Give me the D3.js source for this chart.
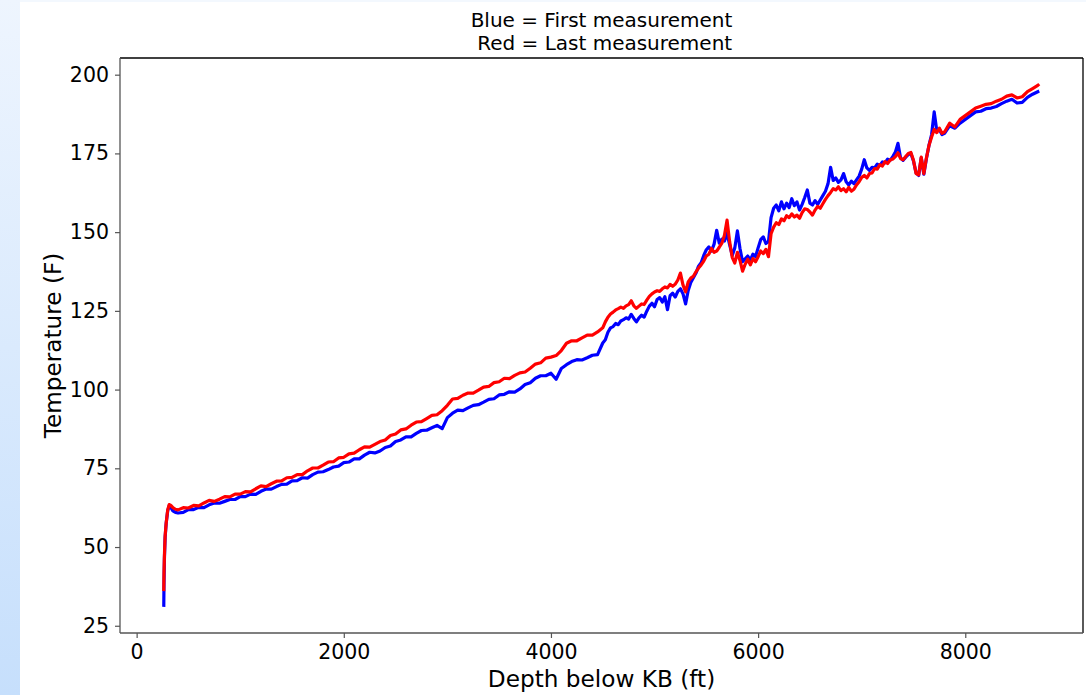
<!DOCTYPE html>
<html>
<head>
<meta charset="utf-8">
<script src="https://cdn.jsdelivr.net/npm/d3@7"></script>
<style>
  body { margin: 0; background: #fff; }
  #chart text { font-family: "DejaVu Sans", sans-serif; fill: #000; }
  .axis path, .axis line { stroke: #555; }
</style>
</head>
<body>
<div id="chart"></div>
<script>

// depth below KB (ft), shared by both surveys
var depth = [
  262, 264, 268, 275, 285, 300, 315, 330, 350, 375, 400,
  450, 500, 550, 600, 650, 700, 750, 800, 850, 900, 950, 1000, 1050, 1100, 1150, 1200, 1250, 1300, 1350, 1400,
  1450, 1500, 1550, 1600, 1650, 1700, 1750, 1800, 1850, 1900, 1950, 2000, 2050, 2100, 2150, 2200, 2250, 2300,
  2350, 2400, 2450, 2500, 2550, 2600, 2650, 2700, 2750, 2800, 2850, 2900, 2950, 3000, 3050, 3100, 3150, 3200,
  3250, 3300, 3350, 3400, 3450, 3500, 3550, 3600, 3650, 3700, 3750, 3800, 3850, 3900, 3950, 4000, 4050, 4100,
  4150, 4200, 4250, 4300, 4350, 4400, 4450, 4500,
  4525, 4550, 4575, 4600, 4625, 4650, 4675, 4700, 4725, 4750, 4775, 4800, 4825, 4850, 4875, 4900, 4925, 4950, 4975, 5000,
  5025, 5050, 5075, 5100, 5125, 5150, 5175, 5200, 5225, 5250, 5275, 5300, 5325, 5350, 5375, 5400, 5425, 5450, 5475, 5500,
  5525, 5550, 5575, 5600, 5625, 5650, 5675, 5700, 5725, 5750, 5775, 5800, 5825, 5850, 5875, 5900, 5925, 5950, 5975, 6000,
  6025, 6050, 6075, 6100, 6125, 6150, 6175, 6200, 6225, 6250, 6275, 6300, 6325, 6350, 6375, 6400, 6425, 6450, 6475, 6500,
  6525, 6550, 6575, 6600, 6625, 6650, 6675, 6700, 6725, 6750, 6775, 6800, 6825, 6850, 6875, 6900, 6925, 6950, 6975, 7000,
  7025, 7050, 7075, 7100, 7125, 7150, 7175, 7200, 7225, 7250, 7275, 7300, 7325, 7350, 7375, 7400, 7425, 7450, 7475, 7500,
  7525, 7550, 7575, 7600, 7625, 7650, 7675, 7700, 7725, 7750, 7775, 7800,
  7850, 7900, 7950, 8000, 8050, 8100, 8150, 8200, 8250, 8300, 8350, 8400, 8450, 8500, 8550, 8600, 8650, 8700, 8714
];

// first measurement (F)
var firstTemp = [
  31.0, 38.0, 46.0, 53.0, 57.5, 61.5, 63.2, 62.6, 61.5, 61.0, 60.8,
  61.0, 61.9, 61.9, 62.6, 62.5, 63.4, 64.0, 63.9, 64.5, 65.1, 65.1, 66.0, 66.0, 66.8, 66.7, 67.7, 68.4, 68.4, 69.2, 69.9,
  70.0, 71.0, 71.1, 72.0, 71.9, 73.0, 73.8, 73.9, 74.6, 75.4, 75.7, 76.8, 77.0, 78.0, 78.0, 79.2, 80.1, 79.9,
  80.5, 81.6, 82.1, 83.5, 84.0, 85.0, 85.0, 86.1, 87.0, 87.1, 87.9, 88.6, 87.6, 91.1, 92.5, 93.5, 93.3, 94.2,
  95.0, 95.2, 96.0, 96.9, 97.1, 98.3, 98.5, 99.3, 99.2, 100.2, 101.6, 102.2, 103.6, 104.4, 104.4, 105.2, 103.3, 106.7,
  107.9, 108.9, 109.5, 109.4, 110.1, 110.9, 111.1, 114.8,
  115.8, 118.2, 119.6, 120.0, 121.0, 120.6, 121.8, 122.2, 122.8, 122.4, 123.9, 122.6, 121.5, 122.8, 123.6, 123.0, 124.9, 126.5, 127.4, 126.3,
  128.6, 129.2, 127.8, 129.5, 125.4, 129.8, 130.6, 129.4, 131.2, 132.0, 130.4, 127.2, 131.5, 134.0, 135.5, 137.0, 139.2, 140.3, 142.6, 144.4,
  145.3, 144.0, 146.2, 150.6, 146.5, 147.8, 147.2, 149.6, 146.0, 142.6, 145.0, 150.4, 144.8, 140.6, 141.5, 142.4, 141.2, 143.0, 142.2, 145.0,
  147.6, 148.5, 146.4, 147.0, 154.6, 157.6, 158.6, 156.8, 159.6, 157.4, 159.2, 157.8, 160.6, 158.4, 159.6, 157.0, 158.8, 161.0, 163.4, 159.2,
  158.6, 160.0, 158.8, 160.2, 161.6, 163.0, 165.4, 170.6, 166.4, 167.2, 165.8, 166.6, 168.6, 166.0, 165.0, 166.2, 165.4, 166.6, 167.8, 170.0,
  173.0, 170.4, 169.6, 170.6, 170.4, 171.6, 171.2, 172.3, 172.0, 173.2, 172.8, 174.0, 175.4, 178.2, 173.6, 172.8, 173.8, 174.6, 175.0, 172.6,
  168.8, 168.0, 173.6, 168.4, 173.4, 177.6, 181.0, 188.2, 182.2, 182.6, 181.0, 181.4,
  183.8, 183.0, 184.6, 185.8, 187.0, 188.2, 188.4, 189.2, 189.4, 189.9, 190.8, 191.6, 192.2, 191.0, 191.2, 192.8, 193.8, 194.6, 194.8
];

// last measurement (F)
var lastTemp = [
  36.0, 41.5, 47.0, 53.5, 57.5, 61.8, 63.5, 63.2, 62.5, 62.0, 61.8,
  62.5, 62.4, 63.2, 63.1, 64.0, 64.8, 64.5, 65.2, 66.0, 65.9, 66.8, 66.8, 67.6, 67.5, 68.5, 69.4, 69.2, 70.1, 70.9, 71.0,
  72.0, 72.1, 73.0, 73.0, 74.2, 75.1, 75.1, 76.0, 77.0, 77.1, 78.3, 78.5, 79.6, 79.8, 80.9, 81.8, 81.7, 82.6,
  83.5, 84.0, 85.4, 85.9, 87.2, 87.5, 88.7, 89.7, 89.8, 90.8, 91.8, 92.0, 93.3, 95.0, 97.0, 97.2, 98.2, 98.9,
  98.9, 99.8, 100.8, 101.0, 102.2, 102.5, 103.6, 103.5, 104.5, 105.3, 105.6, 106.8, 108.1, 108.5, 110.0, 110.3, 110.8, 112.4,
  114.7, 115.5, 115.5, 116.4, 117.3, 117.3, 118.3, 119.6,
  121.5, 123.0, 124.0, 124.6, 125.3, 125.7, 126.2, 125.8, 126.6, 127.0, 128.2, 126.6, 125.8, 126.5, 127.2, 127.0, 128.4, 129.6, 130.4, 131.0,
  131.4, 131.2, 132.0, 132.6, 132.3, 133.4, 132.8, 133.5, 134.8, 137.0, 133.2, 131.0, 134.2, 135.4, 136.0, 137.4, 138.6, 139.6, 140.8, 142.4,
  143.0, 144.8, 143.6, 144.0, 145.2, 146.5, 149.0, 153.8, 147.0, 142.0, 140.2, 143.6, 141.0, 137.6, 139.8, 141.4, 139.6, 141.6, 140.6, 142.2,
  144.0, 143.2, 144.5, 142.2, 149.5, 151.6, 153.0, 152.4, 154.2, 153.6, 155.2, 154.6, 155.8, 154.8, 155.4, 154.4, 156.2, 157.4, 157.2, 156.4,
  155.4, 157.0, 158.2, 157.6, 159.0, 160.4, 161.6, 162.6, 163.8, 163.4, 164.4, 163.2, 163.8, 162.8, 164.2, 163.0, 163.6, 165.0, 166.0, 167.4,
  168.0, 167.2, 168.6, 168.8, 170.2, 170.0, 171.4, 171.0, 172.4, 171.8, 172.9, 173.2, 174.0, 175.2, 173.4, 173.0, 174.0, 175.0, 175.3, 172.8,
  168.6, 168.2, 173.8, 168.6, 173.6, 177.6, 180.2, 182.6, 181.6, 183.0, 181.4, 181.8,
  184.6, 183.4, 185.8, 187.0, 188.2, 189.4, 190.0, 190.6, 190.8, 191.6, 192.2, 193.2, 193.6, 192.6, 193.0, 194.6, 195.6, 196.6, 197.0
];

var xTicks = [0, 2000, 4000, 6000, 8000];
var yTicks = [25, 50, 75, 100, 125, 150, 175, 200];

var titleLines = ["Blue = First measurement", " Red = Last measurement"];
var xLabel = "Depth below KB (ft)";
var yLabel = "Temperature (F)";


var W = 1086, H = 695;
var plot = { left: 120, top: 58, right: 1083, bottom: 633 };

var svg = d3.select("#chart")
  .append("svg")
  .attr("width", W)
  .attr("height", H);

// page background strip on the left
var grad = svg.append("defs").append("linearGradient")
  .attr("id", "side").attr("x1", 0).attr("y1", 0).attr("x2", 0).attr("y2", 1);
grad.append("stop").attr("offset", "0%").attr("stop-color", "#eef5fe");
grad.append("stop").attr("offset", "100%").attr("stop-color", "#c6dffc");

svg.append("rect").attr("x", 0).attr("y", 0).attr("width", W).attr("height", 2).attr("fill", "#f3f8fe");
svg.append("rect").attr("x", 0).attr("y", 0).attr("width", 20).attr("height", H).attr("fill", "url(#side)");

// matplotlib style 5% margins
function padded(ext) {
  var m = (ext[1] - ext[0]) * 0.05;
  return [ext[0] - m, ext[1] + m];
}

var x = d3.scaleLinear()
  .domain(padded(d3.extent(depth)))
  .range([plot.left, plot.right]);

var allTemps = firstTemp.concat(lastTemp);
var y = d3.scaleLinear()
  .domain(padded(d3.extent(allTemps)))
  .range([plot.bottom, plot.top]);

var n = Math.min(depth.length, firstTemp.length, lastTemp.length);

var line = d3.line()
  .x(function (d) { return x(d[0]); })
  .y(function (d) { return y(d[1]); });

function series(values) {
  return d3.range(n).map(function (i) { return [depth[i], values[i]]; });
}

svg.append("clipPath").attr("id", "plotclip")
  .append("rect")
  .attr("x", plot.left).attr("y", plot.top)
  .attr("width", plot.right - plot.left).attr("height", plot.bottom - plot.top);

var lines = svg.append("g").attr("clip-path", "url(#plotclip)");

lines.append("path")
  .datum(series(firstTemp))
  .attr("fill", "none")
  .attr("stroke", "#0000ff")
  .attr("stroke-width", 3.2)
  .attr("stroke-linejoin", "round")
  .attr("d", line);

lines.append("path")
  .datum(series(lastTemp))
  .attr("fill", "none")
  .attr("stroke", "#ff0000")
  .attr("stroke-width", 3.2)
  .attr("stroke-linejoin", "round")
  .attr("d", line);

// axes
var xAxis = d3.axisBottom(x).tickValues(xTicks).tickSize(5).tickPadding(6).tickFormat(d3.format("d"));
var yAxis = d3.axisLeft(y).tickValues(yTicks).tickSize(5).tickPadding(6).tickFormat(d3.format("d"));

var gx = svg.append("g")
  .attr("class", "axis")
  .attr("transform", "translate(0," + plot.bottom + ")")
  .call(xAxis);
gx.select(".domain").remove();

var gy = svg.append("g")
  .attr("class", "axis")
  .attr("transform", "translate(" + plot.left + ",0)")
  .call(yAxis);
gy.select(".domain").remove();

svg.selectAll(".axis text").style("font-size", "20.5px");
svg.selectAll(".axis line").attr("stroke-width", 1.2);

// spines: left/bottom grey, top/right black
svg.append("line").attr("x1", plot.left).attr("x2", plot.right).attr("y1", plot.top).attr("y2", plot.top)
  .attr("stroke", "#000").attr("stroke-width", 1.3);
svg.append("line").attr("x1", plot.right).attr("x2", plot.right).attr("y1", plot.top).attr("y2", plot.bottom)
  .attr("stroke", "#000").attr("stroke-width", 1.3);
svg.append("line").attr("x1", plot.left).attr("x2", plot.left).attr("y1", plot.top).attr("y2", plot.bottom)
  .attr("stroke", "#555").attr("stroke-width", 1.3);
svg.append("line").attr("x1", plot.left).attr("x2", plot.right).attr("y1", plot.bottom).attr("y2", plot.bottom)
  .attr("stroke", "#555").attr("stroke-width", 1.3);

// title
var cx = (plot.left + plot.right) / 2;
svg.selectAll(".title")
  .data(titleLines)
  .enter()
  .append("text")
  .attr("class", "title")
  .attr("x", cx)
  .attr("y", function (d, i) { return 27 + i * 23; })
  .attr("text-anchor", "middle")
  .style("font-size", "20px")
  .style("white-space", "pre")
  .text(function (d) { return d; });

svg.append("text")
  .attr("x", cx)
  .attr("y", 687)
  .attr("text-anchor", "middle")
  .style("font-size", "23.2px")
  .text(xLabel);

svg.append("text")
  .attr("transform", "translate(61," + (plot.top + plot.bottom) / 2 + ") rotate(-90)")
  .attr("text-anchor", "middle")
  .style("font-size", "23.2px")
  .text(yLabel);

</script>
</body>
</html>
